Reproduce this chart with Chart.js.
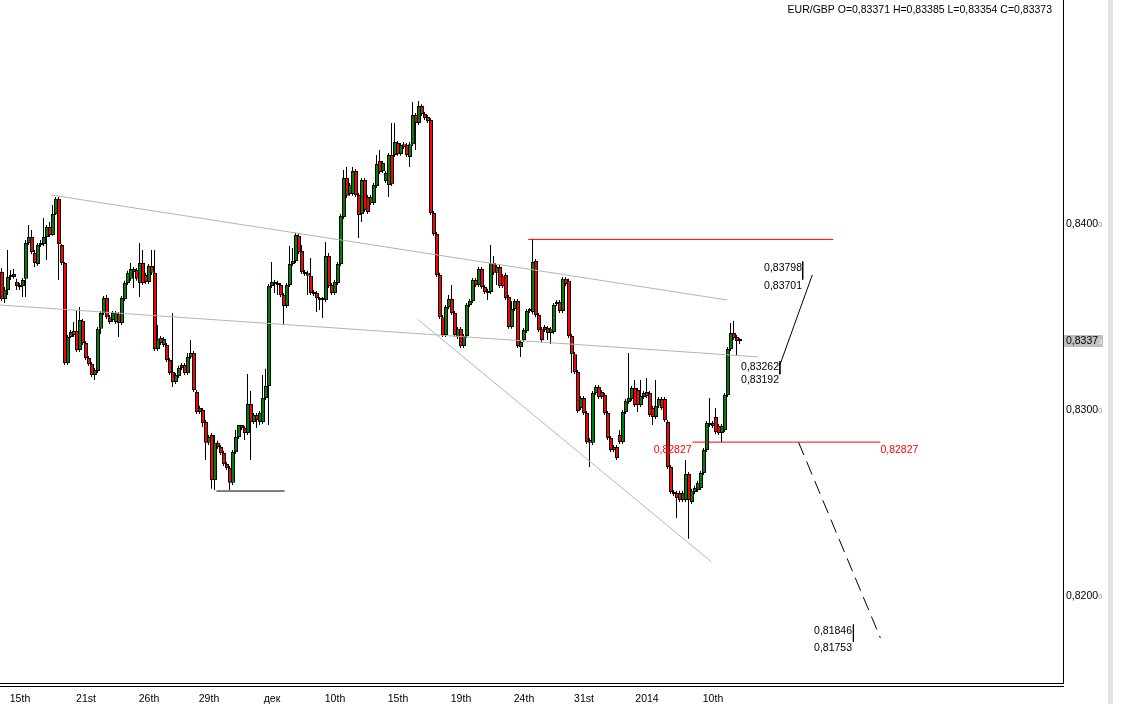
<!DOCTYPE html>
<html>
<head>
<meta charset="utf-8">
<title>EUR/GBP</title>
<script src="https://cdn.jsdelivr.net/npm/chart.js@4.4.1/dist/chart.umd.min.js"></script>
<style>
html,body{margin:0;padding:0;background:#fff;overflow:hidden;}
canvas{display:block;}
</style>
</head>
<body>
<canvas id="chart" width="1133" height="704"></canvas>
<script>
// ---------------- data ----------------
const symbol = 'EUR/GBP';
const lastBarText = {o: '0,83371', h: '0,83385', l: '0,83354', c: '0,83373'};

const opens = [
0.83742,0.83597,0.83645,0.83715,0.83715,0.83688,0.83661,0.83667,0.83705,0.83898,
0.83930,0.83844,0.83784,0.83887,0.83892,0.83930,0.83983,0.83941,0.84053,0.84135,
0.83887,0.83790,0.83253,0.83392,0.83425,0.83425,0.83322,0.83479,0.83360,0.83279,
0.83247,0.83188,0.83210,0.83436,0.83521,0.83602,0.83499,0.83484,0.83473,0.83515,
0.83468,0.83597,0.83683,0.83705,0.83742,0.83753,0.83683,0.83790,0.83726,0.83688,
0.83774,0.83737,0.83328,0.83387,0.83349,0.83349,0.83269,0.83204,0.83150,0.83183,
0.83226,0.83242,0.83199,0.83284,0.83306,0.83096,0.82989,0.83000,0.82935,0.82823,
0.82865,0.82624,0.82823,0.82801,0.82769,0.82709,0.82688,0.82608,0.82774,0.82854,
0.82919,0.82903,0.82876,0.83032,0.82935,0.82973,0.82935,0.82935,0.83064,0.83129,
0.83667,0.83688,0.83683,0.83672,0.83618,0.83559,0.83672,0.83784,0.83801,0.83936,
0.83855,0.83742,0.83737,0.83721,0.83623,0.83629,0.83591,0.83591,0.83591,0.83828,
0.83672,0.83629,0.83683,0.83784,0.84037,0.84247,0.84161,0.84161,0.84285,0.84156,
0.84053,0.84236,0.84145,0.84113,0.84113,0.84204,0.84339,0.84285,0.84231,0.84209,
0.84371,0.84371,0.84435,0.84376,0.84429,0.84424,0.84360,0.84429,0.84586,0.84543,
0.84634,0.84591,0.84575,0.84559,0.84059,0.83946,0.83726,0.83499,0.83403,0.83553,
0.83597,0.83521,0.83392,0.83436,0.83344,0.83398,0.83564,0.83586,0.83699,0.83672,
0.83758,0.83661,0.83629,0.83634,0.83790,0.83737,0.83768,0.83721,0.83726,0.83607,
0.83446,0.83543,0.83586,0.83338,0.83376,0.83425,0.83532,0.83526,0.83801,0.83510,
0.83436,0.83430,0.83441,0.83414,0.83419,0.83569,0.83580,0.83532,0.83705,0.83694,
0.83398,0.83300,0.83204,0.83011,0.83064,0.82984,0.82839,0.82823,0.83091,0.83123,
0.83096,0.83080,0.82984,0.82849,0.82785,0.82801,0.82865,0.82828,0.82989,0.83043,
0.83059,0.83118,0.83107,0.83027,0.83091,0.83075,0.83091,0.83011,0.82962,0.83022,
0.83059,0.83059,0.82935,0.82693,0.82559,0.82554,0.82554,0.82516,0.82516,0.82655,
0.82505,0.82559,0.82570,0.82581,0.82661,0.82785,0.82919,0.82914,0.82962,0.82914,
0.82876,0.82892,0.83080,0.83328,0.83414,0.83392,0.83371
];
const highs = [
0.83763,0.83661,0.83860,0.83753,0.83758,0.83705,0.83683,0.83710,0.83914,0.83994,
0.83968,0.83860,0.83898,0.83914,0.84032,0.83994,0.84010,0.84102,0.84145,0.84145,
0.83892,0.83795,0.83403,0.83430,0.83473,0.83537,0.83553,0.83489,0.83371,0.83290,
0.83258,0.83226,0.83446,0.83532,0.83613,0.83618,0.83510,0.83532,0.83532,0.83526,
0.83613,0.83694,0.83748,0.83790,0.83768,0.83763,0.83898,0.83860,0.83737,0.83784,
0.83860,0.83860,0.83457,0.83398,0.83392,0.83360,0.83279,0.83521,0.83199,0.83237,
0.83253,0.83253,0.83306,0.83376,0.83317,0.83107,0.83022,0.83011,0.82946,0.82865,
0.82876,0.82865,0.82834,0.82812,0.82780,0.82720,0.82699,0.82785,0.82892,0.82903,
0.82908,0.82914,0.83193,0.83102,0.82984,0.82984,0.82995,0.83188,0.83221,0.83677,
0.83795,0.83699,0.83694,0.83683,0.83629,0.83683,0.83882,0.83871,0.83952,0.83946,
0.83887,0.83753,0.83748,0.83817,0.83645,0.83640,0.83607,0.83607,0.83903,0.83844,
0.83683,0.83699,0.83795,0.84053,0.84290,0.84306,0.84220,0.84306,0.84296,0.84167,
0.84247,0.84247,0.84156,0.84156,0.84220,0.84371,0.84398,0.84339,0.84285,0.84382,
0.84543,0.84543,0.84446,0.84435,0.84440,0.84435,0.84440,0.84655,0.84597,0.84661,
0.84644,0.84602,0.84586,0.84570,0.84070,0.83957,0.83737,0.83510,0.83564,0.83618,
0.83672,0.83532,0.83446,0.83446,0.83408,0.83575,0.83597,0.83710,0.83710,0.83768,
0.83768,0.83672,0.83651,0.83887,0.83828,0.83779,0.83779,0.83731,0.83737,0.83618,
0.83586,0.83597,0.83597,0.83376,0.83441,0.83543,0.83548,0.83920,0.83812,0.83521,
0.83446,0.83457,0.83452,0.83446,0.83575,0.83591,0.83591,0.83715,0.83715,0.83705,
0.83408,0.83311,0.83215,0.83075,0.83075,0.82995,0.82849,0.83102,0.83134,0.83134,
0.83107,0.83091,0.82995,0.82860,0.82812,0.82812,0.82892,0.83000,0.83059,0.83306,
0.83129,0.83161,0.83118,0.83161,0.83102,0.83172,0.83102,0.83022,0.83161,0.83069,
0.83069,0.83069,0.82946,0.82704,0.82570,0.82565,0.82565,0.82565,0.82731,0.82666,
0.82576,0.82592,0.82619,0.82672,0.82796,0.82941,0.83064,0.82941,0.83011,0.82924,
0.82924,0.83091,0.83338,0.83468,0.83479,0.83403,0.83385
];
const lows = [
0.83586,0.83575,0.83618,0.83699,0.83705,0.83645,0.83645,0.83607,0.83607,0.83887,
0.83838,0.83768,0.83774,0.83876,0.83882,0.83806,0.83930,0.83936,0.84048,0.83699,
0.83779,0.83242,0.83242,0.83387,0.83392,0.83311,0.83311,0.83349,0.83269,0.83237,
0.83177,0.83161,0.83199,0.83408,0.83510,0.83489,0.83462,0.83473,0.83462,0.83392,
0.83457,0.83586,0.83672,0.83694,0.83656,0.83694,0.83607,0.83672,0.83677,0.83677,
0.83726,0.83317,0.83317,0.83349,0.83338,0.83258,0.83188,0.83123,0.83139,0.83172,
0.83215,0.83188,0.83188,0.83274,0.83096,0.82978,0.82978,0.82908,0.82731,0.82812,
0.82576,0.82570,0.82791,0.82758,0.82699,0.82677,0.82570,0.82597,0.82763,0.82844,
0.82892,0.82839,0.82865,0.82731,0.82924,0.82903,0.82919,0.82924,0.83054,0.82919,
0.83656,0.83629,0.83618,0.83607,0.83462,0.83548,0.83661,0.83774,0.83790,0.83838,
0.83731,0.83721,0.83618,0.83618,0.83613,0.83526,0.83537,0.83494,0.83580,0.83656,
0.83618,0.83618,0.83672,0.83774,0.84027,0.84140,0.84151,0.84151,0.84145,0.83925,
0.84010,0.84064,0.84053,0.84102,0.84102,0.84193,0.84268,0.84274,0.84220,0.84145,
0.84204,0.84360,0.84366,0.84366,0.84403,0.84360,0.84306,0.84419,0.84398,0.84532,
0.84581,0.84559,0.84543,0.84048,0.83936,0.83715,0.83489,0.83392,0.83392,0.83543,
0.83510,0.83392,0.83382,0.83333,0.83333,0.83387,0.83553,0.83575,0.83661,0.83661,
0.83651,0.83623,0.83591,0.83623,0.83726,0.83672,0.83656,0.83656,0.83591,0.83436,
0.83436,0.83532,0.83333,0.83284,0.83365,0.83414,0.83521,0.83515,0.83499,0.83419,
0.83365,0.83419,0.83376,0.83354,0.83408,0.83559,0.83521,0.83521,0.83667,0.83387,
0.83199,0.83193,0.82984,0.83000,0.82973,0.82817,0.82693,0.82812,0.83080,0.83059,
0.83059,0.82973,0.82839,0.82774,0.82774,0.82731,0.82817,0.82817,0.82978,0.83032,
0.83049,0.83016,0.82989,0.83016,0.83059,0.83064,0.82962,0.82919,0.82952,0.83011,
0.83000,0.82935,0.82683,0.82548,0.82538,0.82419,0.82505,0.82505,0.82505,0.82307,
0.82494,0.82548,0.82559,0.82570,0.82650,0.82774,0.82908,0.82903,0.82870,0.82865,
0.82828,0.82881,0.83069,0.83317,0.83376,0.83295,0.83354
];
const closes = [
0.83597,0.83645,0.83715,0.83721,0.83731,0.83667,0.83672,0.83699,0.83898,0.83930,
0.83849,0.83790,0.83887,0.83898,0.83930,0.83983,0.83941,0.84053,0.84135,0.83892,
0.83790,0.83253,0.83392,0.83419,0.83403,0.83322,0.83484,0.83360,0.83279,0.83247,
0.83188,0.83215,0.83436,0.83521,0.83602,0.83499,0.83473,0.83521,0.83521,0.83468,
0.83602,0.83683,0.83737,0.83758,0.83758,0.83705,0.83790,0.83683,0.83688,0.83774,
0.83737,0.83328,0.83382,0.83360,0.83382,0.83269,0.83199,0.83150,0.83188,0.83226,
0.83242,0.83199,0.83284,0.83306,0.83107,0.82989,0.83011,0.82930,0.82823,0.82854,
0.82624,0.82823,0.82801,0.82769,0.82709,0.82688,0.82608,0.82774,0.82854,0.82919,
0.82903,0.82876,0.83032,0.82935,0.82973,0.82946,0.82984,0.83064,0.83129,0.83667,
0.83688,0.83677,0.83672,0.83618,0.83559,0.83672,0.83784,0.83801,0.83941,0.83849,
0.83742,0.83731,0.83721,0.83629,0.83634,0.83602,0.83597,0.83597,0.83828,0.83667,
0.83629,0.83688,0.83784,0.84043,0.84247,0.84151,0.84209,0.84285,0.84156,0.84048,
0.84236,0.84075,0.84064,0.84145,0.84209,0.84322,0.84279,0.84328,0.84274,0.84371,
0.84214,0.84440,0.84376,0.84424,0.84413,0.84371,0.84429,0.84586,0.84543,0.84634,
0.84591,0.84570,0.84554,0.84059,0.83946,0.83726,0.83499,0.83403,0.83553,0.83597,
0.83521,0.83403,0.83436,0.83344,0.83398,0.83564,0.83586,0.83699,0.83672,0.83758,
0.83661,0.83634,0.83640,0.83790,0.83737,0.83768,0.83667,0.83667,0.83602,0.83446,
0.83543,0.83586,0.83344,0.83365,0.83430,0.83532,0.83537,0.83795,0.83510,0.83430,
0.83376,0.83446,0.83414,0.83436,0.83564,0.83580,0.83532,0.83705,0.83677,0.83398,
0.83300,0.83204,0.82995,0.83064,0.82984,0.82828,0.82823,0.83091,0.83123,0.83069,
0.83069,0.82984,0.82849,0.82785,0.82801,0.82742,0.82828,0.82989,0.83049,0.83064,
0.83118,0.83027,0.83027,0.83075,0.83069,0.83096,0.82973,0.82962,0.83022,0.83059,
0.83011,0.82946,0.82693,0.82559,0.82548,0.82527,0.82516,0.82554,0.82655,0.82516,
0.82565,0.82581,0.82608,0.82661,0.82785,0.82930,0.82930,0.82930,0.82881,0.82876,
0.82914,0.83080,0.83328,0.83414,0.83387,0.83371,0.83373
];

// x-axis: bar index of each date label, and the labels
const xTickBars   = [6, 28, 49, 69, 90, 111, 132, 153, 174, 194, 215, 237];
const xTickLabels = ['15th', '21st', '26th', '29th', 'дек', '10th', '15th', '19th', '24th', '31st', '2014', '10th'];
// y-axis ticks (price)
const yTicks = [0.82, 0.83, 0.84];
const lastPrice = 0.83373;
// visible range (bar index / price)
const xRange = [-0.6667, 353.6667];
const yRange = [0.81532, 0.85204];

// drawn objects, in (bar index, price)
const grayTrendLines = [
  [[16.2, 0.84156], [241.8, 0.83591]],
  [[-0.7, 0.83564], [252.2, 0.83285]],
  [[138.6, 0.83487], [236.5, 0.82183]]
];
const redLevelTop   = [[175.4, 0.83917], [277.1, 0.83917]];
const blackSupport  = [[71.5, 0.82564], [94.2, 0.82564]];
const redLevelMid   = [[230.2, 0.82827], [292.8, 0.82827]];
const projectionUp  = [[259.3, 0.83242], [270.1, 0.83726]];
const projectionDown= [[265.5, 0.82827], [292.8, 0.81774]];
const targetMarks = [
  {x: 266.9, hi: 0.83798, lo: 0.83701},
  {x: 259.3, hi: 0.83262, lo: 0.83192},
  {x: 283.8, hi: 0.81846, lo: 0.81753}
];
const targetTexts = [
  {x: 266.9, y: 0.83798, t: '0,83798'}, {x: 266.9, y: 0.83701, t: '0,83701'},
  {x: 259.3, y: 0.83262, t: '0,83262'}, {x: 259.3, y: 0.83192, t: '0,83192'},
  {x: 283.8, y: 0.81846, t: '0,81846'}, {x: 283.8, y: 0.81753, t: '0,81753'}
];
const levelText = '0,82827';

// ---------------- build ----------------
const FONT = "'Liberation Sans', Arial, Helvetica, sans-serif";
const FS = 10.5;
const idx = opens.map((_, i) => i);
const wickData = idx.map(i => ({x: i, y: [lows[i], highs[i]]}));
const bodyData = idx.map(i => ({x: i, y: [opens[i], closes[i]]}));
const bodyColors = idx.map(i => closes[i] >= opens[i] ? '#008000' : '#ff0000');

function lineDs(pts, color, dash) {
  return {
    type: 'line',
    data: pts.map(p => ({x: p[0], y: p[1]})),
    borderColor: color, borderWidth: 1, borderDash: dash || [],
    pointRadius: 0, fill: false, tension: 0, order: 0, clip: false
  };
}

const datasets = [
  {type: 'bar', xAxisID: 'xw', data: wickData, backgroundColor: '#000', borderWidth: 0,
   barThickness: 1, grouped: false, inflateAmount: 0, order: 3},
  {type: 'bar', data: bodyData, backgroundColor: bodyColors, borderColor: '#000',
   borderWidth: 1, borderSkipped: false, barThickness: 4, minBarLength: 2,
   grouped: false, inflateAmount: 0, order: 2}
];
grayTrendLines.forEach(l => datasets.push(lineDs(l, '#b4b4b4')));
datasets.push(lineDs(redLevelTop, '#ff0000'));
datasets.push(lineDs(blackSupport, '#000'));
datasets.push(lineDs(redLevelMid, '#ff0000'));
datasets.push(lineDs(projectionUp, '#000'));
datasets.push(lineDs(projectionDown, '#000', [14, 7]));
targetMarks.forEach(m => datasets.push(lineDs([[m.x, m.hi], [m.x, m.lo]], '#000')));

const fmtTick = v => v.toFixed(4).replace('.', ',');
const noPad = s => { s.paddingTop = 0; s.paddingBottom = 0; s.paddingLeft = 0; s.paddingRight = 0; };

const extras = {
  id: 'extras',
  afterDraw(chart) {
    const {ctx, chartArea: a, scales: {x, y}} = chart;
    ctx.save();
    ctx.font = FS + 'px ' + FONT;
    ctx.textBaseline = 'top';
    // target texts
    ctx.fillStyle = '#000';
    ctx.textAlign = 'right';
    targetTexts.forEach(t => {
      ctx.fillText(t.t, Math.round(x.getPixelForValue(t.x)) - 1, y.getPixelForValue(t.y) + 1);
    });
    // level labels
    ctx.fillStyle = '#ff0000';
    const ly = y.getPixelForValue(redLevelMid[0][1]) + 3;
    ctx.textAlign = 'right';
    ctx.fillText(levelText, x.getPixelForValue(redLevelMid[0][0]) - 1, ly);
    ctx.textAlign = 'left';
    ctx.fillText(levelText, x.getPixelForValue(redLevelMid[1][0]), ly);

    // header
    ctx.fillStyle = '#000';
    ctx.textAlign = 'right';
    ctx.textBaseline = 'middle';
    ctx.fillText(symbol + ' O=' + lastBarText.o + ' H=' + lastBarText.h + ' L=' + lastBarText.l + ' C=' + lastBarText.c, a.right - 11, 10);

    // second bottom line
    ctx.strokeStyle = '#000';
    ctx.lineWidth = 1;
    ctx.beginPath();
    ctx.moveTo(0, a.bottom + 3.5);
    ctx.lineTo(a.right + 1, a.bottom + 3.5);
    ctx.stroke();

    // trailing small digit of y ticks
    const lx = a.right + 3;
    ctx.textAlign = 'left';
    yTicks.forEach(v => {
      const py = y.getPixelForValue(v);
      ctx.font = FS + 'px ' + FONT;
      const w = ctx.measureText(fmtTick(v)).width;
      ctx.font = '8px ' + FONT;
      ctx.fillStyle = '#a0a0a0';
      ctx.fillText('0', lx + w, py + 1);
    });
    // last price box
    const pp = y.getPixelForValue(lastPrice);
    ctx.fillStyle = '#c0c0c0';
    ctx.fillRect(a.right + 1, Math.round(pp) - 6, 39, 12);
    ctx.font = FS + 'px ' + FONT;
    ctx.fillStyle = '#000';
    const lpTxt = lastPrice.toFixed(5).replace('.', ',');
    const main = lpTxt.slice(0, -1);
    ctx.fillText(main, lx, Math.round(pp) + 0.5);
    const w2 = ctx.measureText(main).width;
    ctx.font = '8px ' + FONT;
    ctx.fillStyle = '#e8e8e8';
    ctx.fillText(lpTxt.slice(-1), lx + w2, Math.round(pp) + 1);

    // window scrollbar edge
    ctx.fillStyle = '#e3e3e3';
    ctx.fillRect(1108, 0, 5, 704);
    ctx.restore();
  }
};

new Chart(document.getElementById('chart').getContext('2d'), {
  type: 'bar',
  data: {datasets},
  options: {
    responsive: false,
    animation: false,
    events: [],
    layout: {padding: 0, autoPadding: false},
    plugins: {legend: {display: false}, tooltip: {enabled: false}, title: {display: false}},
    scales: {
      x: {
        type: 'linear', min: xRange[0], max: xRange[1], offset: false,
        grid: {display: false, drawTicks: false},
        border: {display: true, color: '#000', width: 1},
        ticks: {
          autoSkip: false, maxRotation: 0, minRotation: 0, padding: 10, color: '#000',
          font: {family: FONT, size: FS},
          callback: v => { const k = xTickBars.indexOf(v); return k >= 0 ? xTickLabels[k] : ''; }
        },
        afterBuildTicks: s => { s.ticks = xTickBars.map(v => ({value: v})); },
        afterFit: s => { s.height = 21; noPad(s); }
      },
      // same bars, shifted half a pixel so 1px wicks are crisp
      xw: {
        type: 'linear', display: false, min: xRange[0] + 1 / 6, max: xRange[1] + 1 / 6, offset: false,
        grid: {display: false}, ticks: {display: false},
        afterFit: s => { noPad(s); }
      },
      y: {
        type: 'linear', position: 'right', min: yRange[0], max: yRange[1],
        grid: {display: false, drawTicks: false},
        border: {display: true, color: '#000', width: 1},
        ticks: {padding: 3, color: '#000', font: {family: FONT, size: FS}, callback: v => fmtTick(v)},
        afterBuildTicks: s => { s.ticks = yTicks.map(v => ({value: v})); },
        afterFit: s => { s.width = 70; noPad(s); }
      }
    }
  },
  plugins: [extras]
});
</script>
</body>
</html>
